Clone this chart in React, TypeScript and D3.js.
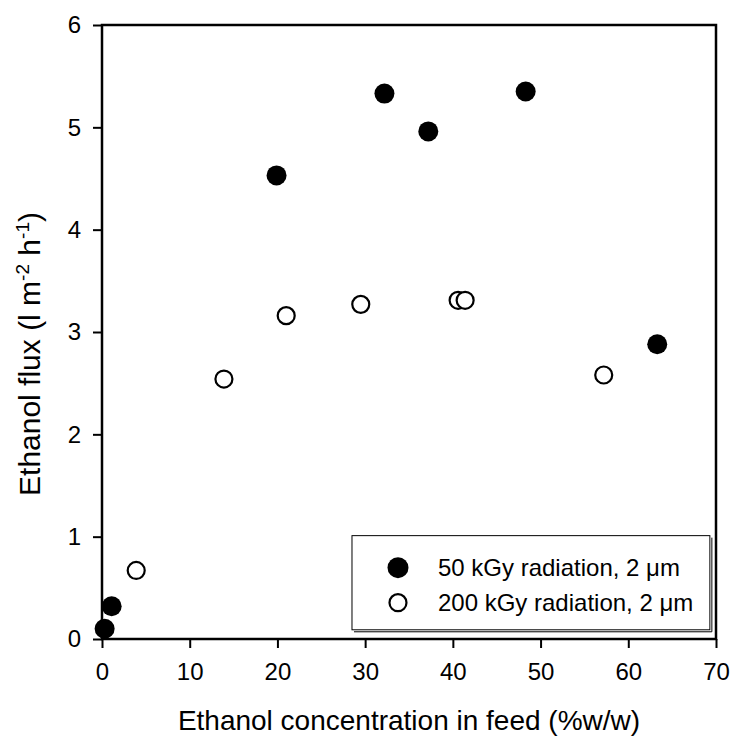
import { useEffect, useRef } from 'react';
import * as d3 from 'd3';

// 50 kGy radiation, 2 um (filled)
const series50x = [0.3, 1.1, 19.9, 32.2, 37.2, 48.3, 63.3];
const series50y = [0.1, 0.32, 4.53, 5.33, 4.96, 5.35, 2.88];
// 200 kGy radiation, 2 um (open)
const series200x = [3.9, 13.9, 21.0, 29.5, 40.6, 41.4, 57.2];
const series200y = [0.67, 2.54, 3.16, 3.27, 3.31, 3.31, 2.58];

const xTicks = [0, 10, 20, 30, 40, 50, 60, 70];
const yTicks = [0, 1, 2, 3, 4, 5, 6];
const legendLabels = ['50 kGy radiation, 2 \u03bcm', '200 kGy radiation, 2 \u03bcm'];

const W = 732;
const H = 740;
const margin = { top: 25, right: 16, bottom: 101, left: 102 };
const FONT = '"Liberation Sans", Arial, sans-serif';

const App = () => {
  const svgRef = useRef<SVGSVGElement>(null);

  useEffect(() => {
    if (!svgRef.current) return;
    const svg = d3.select(svgRef.current);
    svg.selectAll('*').remove();

    const innerW = W - margin.left - margin.right;
    const innerH = H - margin.top - margin.bottom;

    const x = d3.scaleLinear().domain([0, 70]).range([0, innerW]);
    const y = d3.scaleLinear().domain([0, 6]).range([innerH, 0]);

    const g = svg.append('g').attr('transform', `translate(${margin.left},${margin.top})`);

    // x axis
    const xAxis = g.append('g')
      .attr('transform', `translate(0,${innerH})`)
      .call(d3.axisBottom(x).tickValues(xTicks).tickSize(9).tickPadding(15).tickFormat(d3.format('d')));
    xAxis.select('.domain').remove();
    xAxis.selectAll('.tick line').attr('stroke', '#000').attr('stroke-width', 2);
    xAxis.selectAll('.tick text')
      .attr('fill', '#000')
      .style('font-family', FONT)
      .style('font-size', '24px');

    // y axis
    const yAxis = g.append('g')
      .call(d3.axisLeft(y).tickValues(yTicks).tickSize(9).tickPadding(12).tickFormat(d3.format('d')));
    yAxis.select('.domain').remove();
    yAxis.selectAll('.tick line').attr('stroke', '#000').attr('stroke-width', 2);
    yAxis.selectAll('.tick text')
      .attr('fill', '#000')
      .style('font-family', FONT)
      .style('font-size', '24px');

    // frame
    g.append('rect')
      .attr('x', 0).attr('y', 0)
      .attr('width', innerW).attr('height', innerH)
      .attr('fill', 'none')
      .attr('stroke', '#000')
      .attr('stroke-width', 2.5);

    // legend box with thin shadow
    const lx = x(28.5), ly = y(1.01), lw = x(69.3) - x(28.5), lh = y(0.09) - y(1.01);
    g.append('path')
      .attr('d', `M${lx + 2},${ly + lh + 2}H${lx + lw + 2}V${ly + 2}`)
      .attr('fill', 'none').attr('stroke', '#000').attr('stroke-width', 1);
    g.append('rect')
      .attr('x', lx).attr('y', ly).attr('width', lw).attr('height', lh)
      .attr('fill', '#fff').attr('stroke', '#000').attr('stroke-width', 1);

    const legendRows = g.append('g');
    legendLabels.forEach((label, i) => {
      const ry = ly + 32 + i * 35;
      legendRows.append('circle')
        .attr('cx', lx + 46).attr('cy', ry)
        .attr('r', i === 0 ? 10.5 : 8.5)
        .attr('fill', i === 0 ? '#000' : '#fff')
        .attr('stroke', '#000')
        .attr('stroke-width', i === 0 ? 0 : 2.2);
      legendRows.append('text')
        .attr('x', lx + 86).attr('y', ry)
        .attr('dy', '0.35em')
        .style('font-family', FONT)
        .style('font-size', '24px')
        .text(label);
    });

    // points
    g.selectAll('.p200')
      .data(d3.range(series200x.length))
      .enter().append('circle')
      .attr('cx', i => x(series200x[i]))
      .attr('cy', i => y(series200y[i]))
      .attr('r', 8.5)
      .attr('fill', '#fff')
      .attr('stroke', '#000')
      .attr('stroke-width', 2.2);

    g.selectAll('.p50')
      .data(d3.range(series50x.length))
      .enter().append('circle')
      .attr('cx', i => x(series50x[i]))
      .attr('cy', i => y(series50y[i]))
      .attr('r', 10)
      .attr('fill', '#000');

    // axis titles
    svg.append('text')
      .attr('x', margin.left + innerW / 2)
      .attr('y', 720)
      .attr('dy', '0.35em')
      .attr('text-anchor', 'middle')
      .style('font-family', FONT)
      .style('font-size', '28px')
      .text('Ethanol concentration in feed (%w/w)');

    const yt = svg.append('text')
      .attr('transform', `translate(40,354) rotate(-90)`)
      .attr('text-anchor', 'middle')
      .style('font-family', FONT)
      .style('font-size', '30px');
    yt.append('tspan').text('Ethanol flux (l m');
    yt.append('tspan').attr('dy', -11).style('font-size', '19px').text('-2');
    yt.append('tspan').attr('dy', 11).text(' h');
    yt.append('tspan').attr('dy', -11).style('font-size', '19px').text('-1');
    yt.append('tspan').attr('dy', 11).text(')');
  }, []);

  return (
    <div style={{ position: 'absolute', left: 0, top: 0, background: '#fff' }}>
      <svg ref={svgRef} width={W} height={H} style={{ display: 'block' }} />
    </div>
  );
};

export default App;
